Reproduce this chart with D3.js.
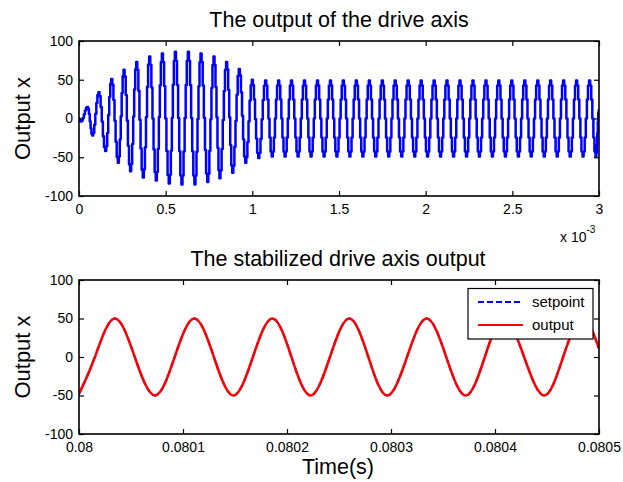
<!DOCTYPE html>
<html><head><meta charset="utf-8">
<script src="https://cdn.jsdelivr.net/npm/d3@7"></script>
<style>body{margin:0;background:#fff} svg{display:block} text{font-family:"Liberation Sans",Arial,sans-serif;fill:#000}</style>
</head><body><svg id="c" width="623" height="482"></svg>
<script>
// ---- Top panel: extrema of the drive-axis output (time in ms, value) ----
const topT = [0, 0.012, 0.050, 0.079, 0.115, 0.154, 0.189, 0.227, 0.260, 0.298, 0.333, 0.371, 0.408, 0.446,
  0.481, 0.521, 0.556, 0.594, 0.631, 0.669, 0.704, 0.743, 0.779, 0.813, 0.852, 0.887, 0.925, 0.962,
  1.000, 1.037, 1.077, 1.115, 1.152, 1.189, 1.226, 1.264, 1.301, 1.339, 1.376, 1.414, 1.451, 1.488,
  1.525, 1.563, 1.600, 1.638, 1.675, 1.712, 1.750, 1.787, 1.824, 1.862, 1.899, 1.937, 1.974, 2.011,
  2.049, 2.086, 2.123, 2.161, 2.198, 2.236, 2.273, 2.310, 2.348, 2.385, 2.422, 2.460, 2.497, 2.535,
  2.572, 2.609, 2.647, 2.684, 2.721, 2.759, 2.796, 2.834, 2.871, 2.908, 2.946, 2.983, 3.000];
const topV = [0, -4, 15, -22, 34, -42, 51, -57, 63, -68, 73, -76, 80, -80, 84, -84, 86, -85, 86, -85,
  84, -82, 80, -77, 73, -70, 64, -57, 50, -51, 49, -49, 49, -49, 49, -49, 49, -49, 49, -49, 49, -49,
  49, -49, 49, -49, 49, -49, 49, -49, 49, -49, 49, -49, 49, -49, 49, -49, 49, -49, 49, -49, 49, -49,
  49, -49, 49, -49, 49, -49, 49, -49, 49, -49, 49, -49, 49, -49, 49, -49, 49, -49, 11];
const topXTicks = [0, 0.5, 1, 1.5, 2, 2.5, 3];
const topXTickLabels = ["0", "0.5", "1", "1.5", "2", "2.5", "3"];
const yTicks = [-100, -50, 0, 50, 100];
const yTickLabels = ["-100", "-50", "0", "50", "100"];
// sample-and-hold shape used between two extrema (fraction of the swing at each held sample)
const stepShape = [0, 0.067, 0.25, 0.5, 0.75, 0.933, 1];

// ---- Bottom panel: stabilized output (time in s) ----
const botT = [0.08, 0.0800153, 0.0800341, 0.0800536, 0.0800731, 0.080092, 0.0801109, 0.0801297, 0.0801484,
  0.0801672, 0.0801859, 0.0802043, 0.0802226, 0.0802413, 0.0802599, 0.0802782, 0.0802964, 0.0803154,
  0.0803343, 0.0803531, 0.0803718, 0.0803902, 0.0804086, 0.080428, 0.0804474, 0.0804655, 0.0804836, 0.0805];
const setpointV = [-48, 0, 50, 0, -50, 0, 50, 0, -50, 0, 50, 0, -50, 0, 50, 0, -50, 0, 50, 0, -50, 0, 50, 0, -50, 0, 50, 11];
const outputV = [-48, 0, 50, 0, -50, 0, 50, 0, -50, 0, 50, 0, -50, 0, 50, 0, -50, 0, 50, 0, -50, 0, 50, 0, -50, 0, 50, 11];
const botXTicks = [0.08, 0.0801, 0.0802, 0.0803, 0.0804, 0.0805];
const botXTickLabels = ["0.08", "0.0801", "0.0802", "0.0803", "0.0804", "0.0805"];
const legendNames = ["setpoint", "output"];

const svg = d3.select("#c");
const L = 79, R = 599;

function panel(y0, y1, xDomain, xt, xtl, id) {
  const x = d3.scaleLinear().domain(xDomain).range([L, R]);
  const y = d3.scaleLinear().domain([-100, 100]).range([y1, y0]);
  const g = svg.append("g");
  svg.append("clipPath").attr("id", id).append("rect")
    .attr("x", L).attr("y", y0).attr("width", R - L).attr("height", y1 - y0);
  const fmtX = (d) => xtl[xt.indexOf(d)];
  const fmtY = (d) => yTickLabels[yTicks.indexOf(d)];
  const axes = [
    svg.append("g").attr("transform", `translate(0,${y1})`)
      .call(d3.axisBottom(x).tickValues(xt).tickFormat(fmtX).tickSizeInner(-5).tickSizeOuter(0).tickPadding(8)),
    svg.append("g").attr("transform", `translate(0,${y0})`)
      .call(d3.axisTop(x).tickValues(xt).tickFormat("").tickSizeInner(-5).tickSizeOuter(0)),
    svg.append("g").attr("transform", `translate(${L},0)`)
      .call(d3.axisLeft(y).tickValues(yTicks).tickFormat(fmtY).tickSizeInner(-5).tickSizeOuter(0).tickPadding(6)),
    svg.append("g").attr("transform", `translate(${R},0)`)
      .call(d3.axisRight(y).tickValues(yTicks).tickFormat("").tickSizeInner(-5).tickSizeOuter(0))
  ];
  axes.forEach(a => {
    a.select(".domain").remove();
    a.selectAll("line").attr("stroke", "#000").attr("stroke-width", 1.2);
    a.selectAll("text").style("font-size", "14px").attr("fill", "#000");
  });
  return { x, y, g, y0, y1 };
}

function box(p) {
  svg.append("rect").attr("x", L).attr("y", p.y0).attr("width", R - L).attr("height", p.y1 - p.y0)
    .attr("fill", "none").attr("stroke", "#000").attr("stroke-width", 1.6);
}

// ---- Top panel ----
const p1 = panel(41, 196, [0, 3], topXTicks, topXTickLabels, "clip1");
const nS = stepShape.length - 1;
const pts = [];
for (let i = 0; i < topT.length - 1; i++) {
  for (let k = 0; k < nS; k++) {
    pts.push([topT[i] + (topT[i + 1] - topT[i]) * k / nS, topV[i] + (topV[i + 1] - topV[i]) * stepShape[k]]);
  }
}
pts.push([topT[topT.length - 1], topV[topV.length - 1]]);
p1.g.append("path").attr("clip-path", "url(#clip1)")
  .attr("d", d3.line().x(d => p1.x(d[0])).y(d => p1.y(d[1])).curve(d3.curveStep)(pts))
  .attr("fill", "none").attr("stroke", "#0000ff").attr("stroke-width", 2.5).attr("stroke-linejoin", "round");
box(p1);

svg.append("text").attr("x", 339).attr("y", 27).attr("text-anchor", "middle").style("font-size", "21.5px")
  .text("The output of the drive axis");
svg.append("text").attr("transform", "translate(30,118.5) rotate(-90)").attr("text-anchor", "middle")
  .style("font-size", "22px").text("Output x");
const sx = svg.append("text").attr("x", 560).attr("y", 242).style("font-size", "14px");
sx.append("tspan").text("x 10");
sx.append("tspan").attr("dy", -9).style("font-size", "10px").text("-3");

// ---- Bottom panel ----
const p2 = panel(280, 434, [0.08, 0.0805], botXTicks, botXTickLabels, "clip2");
const curve = d3.curveNatural;
p2.g.append("path").attr("clip-path", "url(#clip2)")
  .attr("d", d3.line().x((d, i) => p2.x(botT[i])).y(d => p2.y(d)).curve(curve)(setpointV))
  .attr("fill", "none").attr("stroke", "#0000ff").attr("stroke-width", 2).attr("stroke-dasharray", "6,3");
p2.g.append("path").attr("clip-path", "url(#clip2)")
  .attr("d", d3.line().x((d, i) => p2.x(botT[i])).y(d => p2.y(d)).curve(curve)(outputV))
  .attr("fill", "none").attr("stroke", "#ff0000").attr("stroke-width", 2.5);
box(p2);

svg.append("text").attr("x", 338).attr("y", 266).attr("text-anchor", "middle").style("font-size", "21.5px")
  .text("The stabilized drive axis output");
svg.append("text").attr("transform", "translate(30,357) rotate(-90)").attr("text-anchor", "middle")
  .style("font-size", "22px").text("Output x");
svg.append("text").attr("x", 338).attr("y", 474).attr("text-anchor", "middle").style("font-size", "21.5px")
  .text("Time(s)");

// ---- Legend ----
const lg = svg.append("g");
lg.append("rect").attr("x", 468).attr("y", 288.5).attr("width", 125).attr("height", 50.5)
  .attr("fill", "#fff").attr("stroke", "#000").attr("stroke-width", 1.2);
const legStyles = [{ c: "#0000ff", dash: "6,3" }, { c: "#ff0000", dash: null }];
legendNames.forEach((n, i) => {
  const yy = 302 + i * 23;
  lg.append("line").attr("x1", 478).attr("x2", 523).attr("y1", yy).attr("y2", yy)
    .attr("stroke", legStyles[i].c).attr("stroke-width", 2.2).attr("stroke-dasharray", legStyles[i].dash);
  lg.append("text").attr("x", 532).attr("y", yy + 5).style("font-size", "15px").text(n);
});
</script></body></html>
